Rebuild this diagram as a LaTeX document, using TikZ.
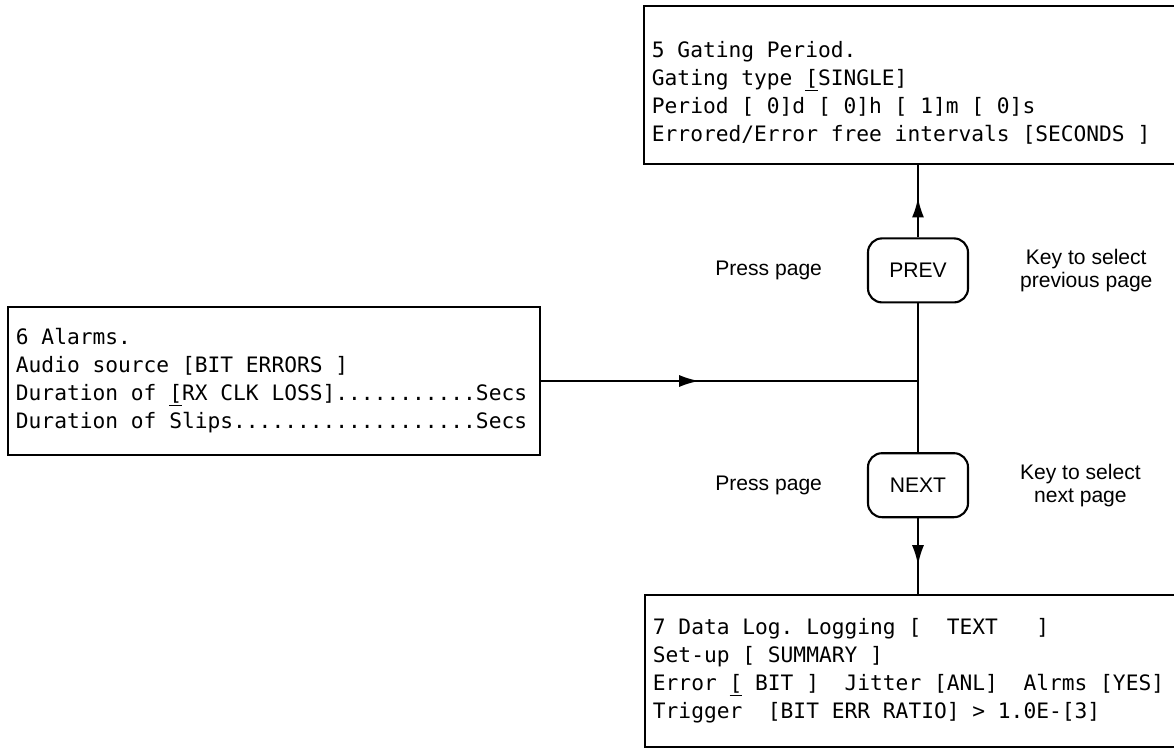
\documentclass[tikz,border=0pt]{standalone}
\usepackage{fontspec}
\setmainfont{Liberation Sans}
\newfontfamily\scrnfont{DejaVu Sans Mono}
\newcommand{\scrnsetup}{\scrnfont\fontsize{15.1}{19.9}\selectfont
  \spaceskip=\fontcharwd\font`0 \xspaceskip=\spaceskip\frenchspacing}
\usetikzlibrary{positioning,decorations.markings,arrows.meta}

\tikzset{
  screen/.style={draw,line width=1.3pt,anchor=north west,align=flush left,inner xsep=0.2cm,
    font=\scrnsetup},
  keycap/.style={draw,line width=1.5pt,rounded corners=0.35cm,minimum width=2.5cm,
    minimum height=1.6cm,font=\fontsize{15}{18}\selectfont},
  note/.style={align=center,font=\fontsize{15}{16.5}\selectfont},
  flow/.style={line width=1.6pt},
  midarrow/.style={flow,postaction={decorate},decoration={markings,
    mark=at position #1 with {\arrow{Latex[length=0.5cm,width=0.3cm]}}}}
}
\newcommand{\curs}[1]{\underline{#1}}

\begin{document}
\begin{tikzpicture}
\useasboundingbox (0,0) rectangle (29.35,-18.8);
% Screens:
\node[screen,text width=13.6cm,minimum height=3.95cm] (gate) at (16.075,-0.125)
  {\rule{0pt}{23pt}5 Gating Period.\\ Gating type \curs{[}SINGLE]\\ Period [ 0]d [ 0]h [ 1]m [ 0]s\\ Errored/Error free intervals [SECONDS ]};
\node[screen,anchor=west,text width=12.9cm,minimum height=3.7cm] (alarm) at (0.175,-9.525)
  {6 Alarms.\\ Audio source [BIT ERRORS ]\\ Duration of \curs{[}RX CLK LOSS]...........Secs\\ Duration of Slips...................Secs};
\node[screen,text width=13.6cm,minimum height=3.8cm] (datalog) at (16.1,-14.85)
  {7 Data Log. Logging [\ \ TEXT\ \ \ ]\\ Set-up [ SUMMARY ]\\ Error \curs{[} BIT ]\ \ Jitter [ANL]\ \ Alrms [YES]\\ Trigger\ \ [BIT ERR RATIO] > 1.0E-[3]};
% Keys:
\node[keycap] (prev) at (22.95,-6.76) {PREV};
\node[keycap] (next) at (22.95,-12.13) {NEXT};
\node[note,left=1cm of prev] (pressprev) {Press page};
\node[note,right=1.15cm of prev] (keyprev) {Key to select\\previous page};
\node[note,left=1cm of next] (pressnext) {Press page};
\node[note,right=1.15cm of next] (keynext) {Key to select\\next page};
% Links:
\coordinate (junc) at (prev |- alarm.east);
\draw[midarrow=0.42] (alarm.east) -- (junc);
\draw[midarrow=0.55] (prev.north) -- (prev.north |- gate.south);
\draw[flow] (prev.south) -- (next.north);
\draw[midarrow=0.62] (next.south) -- (next.south |- datalog.north);
\end{tikzpicture}
\end{document}
